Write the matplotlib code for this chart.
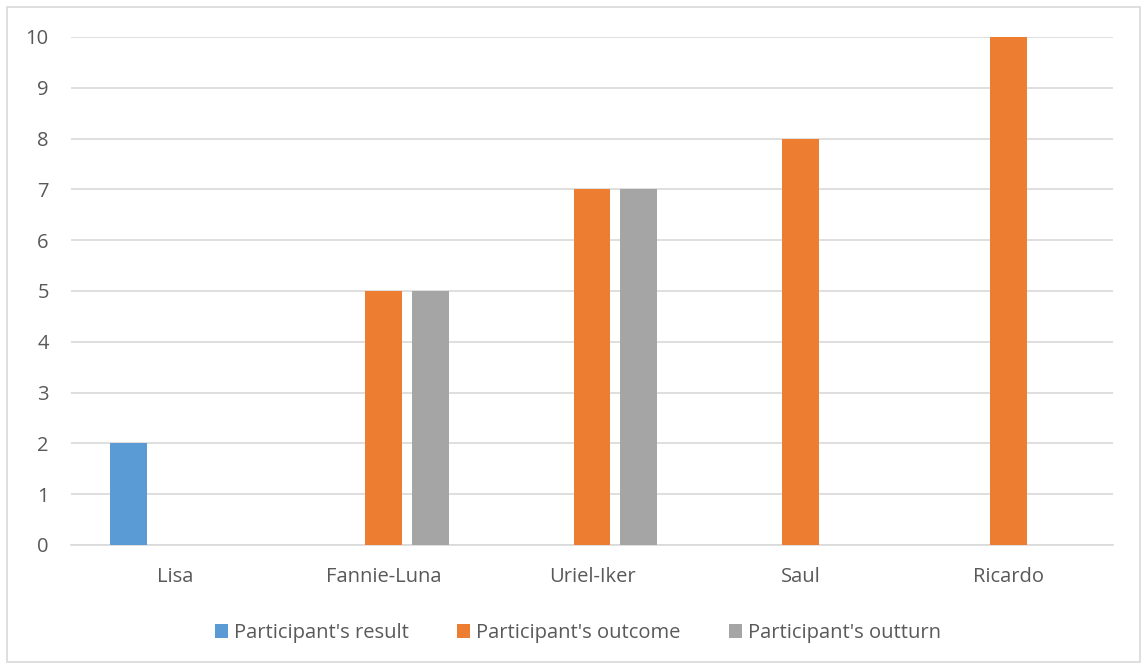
import numpy as np
import matplotlib.pyplot as plt
from matplotlib.patches import Rectangle

categories = ["Lisa", "Fannie-Luna", "Uriel-Iker", "Saul", "Ricardo"]
series_names = ["Participant's result", "Participant's outcome", "Participant's outturn"]
result = [2, 0, 0, 0, 0]
outcome = [0, 5, 7, 8, 10]
outturn = [0, 5, 7, 0, 0]
colors = ["#5b9bd5", "#ed7d31", "#a5a5a5"]

plt.rcParams['font.family'] = ['Open Sans', 'DejaVu Sans']

fig = plt.figure(figsize=(11.44, 6.66), dpi=100)
ax = fig.add_axes([71 / 1144, 1 - 545 / 666, (1113 - 71) / 1144, (545 - 37) / 666])

x = np.arange(len(categories))
width = 0.177
step = 0.225
for i, (vals, name, c) in enumerate(zip([result, outcome, outturn], series_names, colors)):
    ax.bar(x + (i - 1) * step, vals, width, color=c, label=name, zorder=3)

ax.set_xlim(-0.5, len(categories) - 0.5)
ax.set_ylim(0, 10)
ax.set_yticks(range(0, 11))
ax.set_xticks(x)
ax.set_xticklabels(categories)
ax.grid(axis='y', color='#d9d9d9', linewidth=1.2, zorder=0)
for s in ['top', 'right', 'left']:
    ax.spines[s].set_visible(False)
ax.spines['bottom'].set_color('#d9d9d9')
ax.spines['bottom'].set_linewidth(1.2)
ax.tick_params(axis='both', length=0, labelsize=14.5, colors='#595959')
ax.tick_params(axis='x', pad=16)
ax.tick_params(axis='y', pad=16)

leg = fig.legend(loc='center', bbox_to_anchor=(578 / 1144, 1 - 633 / 666), ncol=3,
                 frameon=False, fontsize=14.5, handlelength=0.65, handleheight=0.65,
                 handletextpad=0.3, columnspacing=2.4)
for t in leg.get_texts():
    t.set_color('#595959')

fig.patches.append(Rectangle((7 / 1144, 4 / 666), 1133 / 1144, 655 / 666,
                             transform=fig.transFigure, fill=False,
                             edgecolor='#d9d9d9', linewidth=1.2))

fig.savefig("out.png", dpi=100)
